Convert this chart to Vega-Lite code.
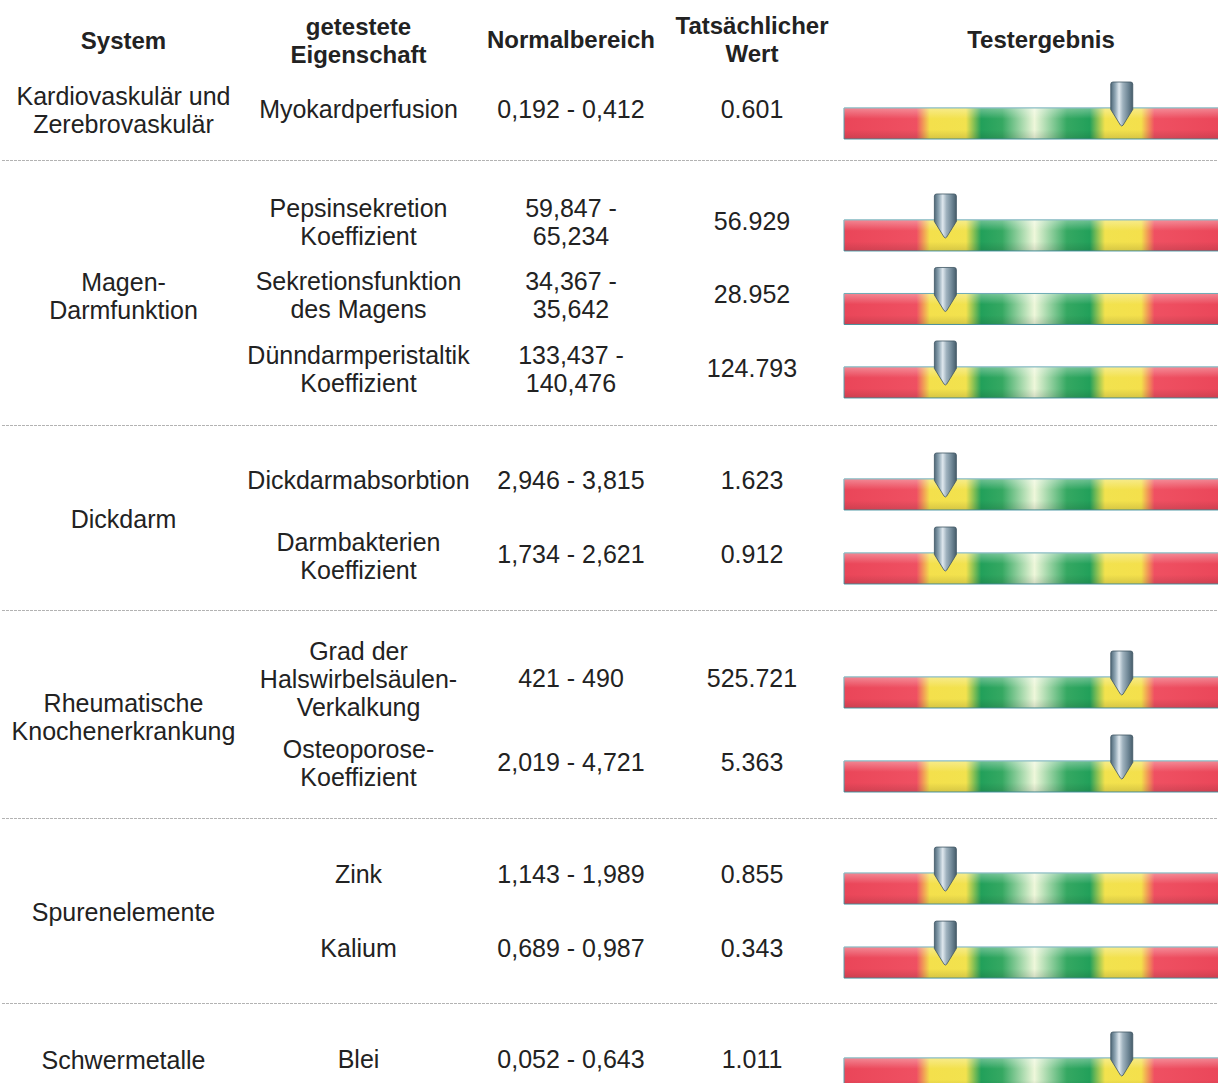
{
  "$schema": "https://vega.github.io/schema/vega-lite/v6.json",
  "padding": 0,
  "spacing": 0,
  "background": "white",
  "config": {
    "view": {"stroke": null},
    "text": {"font": "Liberation Sans", "fontSize": 25, "color": "#222222", "lineBreak": "\n", "lineHeight": 28, "baseline": "middle", "align": "center"}
  },
  "datasets": {
    "zeilen": [
      {"gruppe": 1, "nr": 1, "eigenschaft": "Myokardperfusion", "bereich": "0,192 - 0,412", "wert": 0.601, "skala": 72.9},
      {"gruppe": 2, "nr": 2, "eigenschaft": "Pepsinsekretion\nKoeffizient", "bereich": "59,847 -\n65,234", "wert": 56.929, "skala": 26.6},
      {"gruppe": 2, "nr": 3, "eigenschaft": "Sekretionsfunktion\ndes Magens", "bereich": "34,367 -\n35,642", "wert": 28.952, "skala": 26.6},
      {"gruppe": 2, "nr": 4, "eigenschaft": "Dünndarmperistaltik\nKoeffizient", "bereich": "133,437 -\n140,476", "wert": 124.793, "skala": 26.6},
      {"gruppe": 3, "nr": 5, "eigenschaft": "Dickdarmabsorbtion", "bereich": "2,946 - 3,815", "wert": 1.623, "skala": 26.6},
      {"gruppe": 3, "nr": 6, "eigenschaft": "Darmbakterien\nKoeffizient", "bereich": "1,734 - 2,621", "wert": 0.912, "skala": 26.6},
      {"gruppe": 4, "nr": 7, "eigenschaft": "Grad der\nHalswirbelsäulen-\nVerkalkung", "bereich": "421 - 490", "wert": 525.721, "skala": 72.9},
      {"gruppe": 4, "nr": 8, "eigenschaft": "Osteoporose-\nKoeffizient", "bereich": "2,019 - 4,721", "wert": 5.363, "skala": 72.9},
      {"gruppe": 5, "nr": 9, "eigenschaft": "Zink", "bereich": "1,143 - 1,989", "wert": 0.855, "skala": 26.6},
      {"gruppe": 5, "nr": 10, "eigenschaft": "Kalium", "bereich": "0,689 - 0,987", "wert": 0.343, "skala": 26.6},
      {"gruppe": 6, "nr": 11, "eigenschaft": "Blei", "bereich": "0,052 - 0,643", "wert": 1.011, "skala": 72.9}
    ],
    "gruppen": [
      {"gruppe": 1, "system": "Kardiovaskulär und\nZerebrovaskulär"},
      {"gruppe": 2, "system": "Magen-\nDarmfunktion"},
      {"gruppe": 3, "system": "Dickdarm"},
      {"gruppe": 4, "system": "Rheumatische\nKnochenerkrankung"},
      {"gruppe": 5, "system": "Spurenelemente"},
      {"gruppe": 6, "system": "Schwermetalle"}
    ],
    "kopf": [
      {"spalte": 1, "titel": "System"},
      {"spalte": 2, "titel": "getestete\nEigenschaft"},
      {"spalte": 3, "titel": "Normalbereich"},
      {"spalte": 4, "titel": "Tatsächlicher\nWert"},
      {"spalte": 5, "titel": "Testergebnis"}
    ]
  },
  "vconcat": [
    {
      "spacing": 0, "bounds": "flush",
      "hconcat": [
        {"width": 245, "height": 73, "data": {"name": "kopf"}, "transform": [{"filter": "datum.spalte == 1"}], "mark": {"type": "text", "fontWeight": "bold", "fontSize": 24, "yOffset": 5}, "encoding": {"text": {"field": "titel"}}},
        {"width": 225, "height": 73, "data": {"name": "kopf"}, "transform": [{"filter": "datum.spalte == 2"}], "mark": {"type": "text", "fontWeight": "bold", "fontSize": 24, "yOffset": -9}, "encoding": {"text": {"field": "titel"}}},
        {"width": 200, "height": 73, "data": {"name": "kopf"}, "transform": [{"filter": "datum.spalte == 3"}], "mark": {"type": "text", "fontWeight": "bold", "fontSize": 24, "yOffset": 4}, "encoding": {"text": {"field": "titel"}}},
        {"width": 162, "height": 73, "data": {"name": "kopf"}, "transform": [{"filter": "datum.spalte == 4"}], "mark": {"type": "text", "fontWeight": "bold", "fontSize": 24, "yOffset": -10}, "encoding": {"text": {"field": "titel"}}},
        {"width": 416, "height": 73, "data": {"name": "kopf"}, "transform": [{"filter": "datum.spalte == 5"}], "mark": {"type": "text", "fontWeight": "bold", "fontSize": 24, "yOffset": 4}, "encoding": {"text": {"field": "titel"}}}
      ]
    },
    {
      "spacing": 0, "bounds": "flush",
      "hconcat": [
        {"width": 245, "height": 87, "data": {"name": "gruppen"}, "transform": [{"filter": "datum.gruppe == 1"}], "mark": {"type": "text", "yOffset": -13}, "encoding": {"y": {"field": "gruppe", "type": "ordinal", "axis": null, "scale": {"type": "band", "paddingInner": 0, "paddingOuter": 0.0878, "align": 0}}, "text": {"field": "system"}}},
        {"width": 225, "height": 87, "data": {"name": "zeilen"}, "transform": [{"filter": "datum.gruppe == 1"}], "mark": "text", "encoding": {"y": {"field": "nr", "type": "ordinal", "axis": null, "scale": {"type": "band", "paddingInner": 0, "paddingOuter": 0.0878, "align": 0}}, "text": {"field": "eigenschaft"}}},
        {"width": 200, "height": 87, "data": {"name": "zeilen"}, "transform": [{"filter": "datum.gruppe == 1"}], "mark": "text", "encoding": {"y": {"field": "nr", "type": "ordinal", "axis": null, "scale": {"type": "band", "paddingInner": 0, "paddingOuter": 0.0878, "align": 0}}, "text": {"field": "bereich"}}},
        {"width": 162, "height": 87, "data": {"name": "zeilen"}, "transform": [{"filter": "datum.gruppe == 1"}], "mark": "text", "encoding": {"y": {"field": "nr", "type": "ordinal", "axis": null, "scale": {"type": "band", "paddingInner": 0, "paddingOuter": 0.0878, "align": 0}}, "text": {"field": "wert", "type": "quantitative", "format": ".3f"}}},
        {"width": 400, "height": 87, "data": {"name": "zeilen"}, "transform": [{"filter": "datum.gruppe == 1"}],
         "encoding": {"y": {"field": "nr", "type": "ordinal", "axis": null, "scale": {"type": "band", "paddingInner": 0, "paddingOuter": 0.0878, "align": 0}}},
         "layer": [
          {"mark": {"type": "bar", "height": 31, "yOffset": 13.5, "stroke": "#4f9aa6", "strokeWidth": 1, "fill": {"gradient": "linear", "x1": 0, "y1": 0, "x2": 1, "y2": 0, "stops": [{"offset": 0, "color": "#ea4659"}, {"offset": 0.19, "color": "#ef5062"}, {"offset": 0.225, "color": "#f4e04c"}, {"offset": 0.32, "color": "#f2e24e"}, {"offset": 0.36, "color": "#22a05a"}, {"offset": 0.415, "color": "#35a862"}, {"offset": 0.5, "color": "#eef7da"}, {"offset": 0.585, "color": "#35a862"}, {"offset": 0.645, "color": "#22a05a"}, {"offset": 0.685, "color": "#f2e24e"}, {"offset": 0.78, "color": "#f4e04c"}, {"offset": 0.815, "color": "#ef5062"}, {"offset": 1, "color": "#ea4659"}]}},
           "encoding": {"x": {"datum": 0, "type": "quantitative", "axis": null, "scale": {"domain": [-2.9, 102.1], "nice": false, "zero": false}}, "x2": {"datum": 100}}},
          {"mark": {"type": "bar", "height": 31, "yOffset": 13.5, "fill": {"gradient": "linear", "x1": 0, "y1": 0, "x2": 0, "y2": 1, "stops": [{"offset": 0, "color": "rgba(255,255,255,0.35)"}, {"offset": 0.35, "color": "rgba(255,255,255,0)"}, {"offset": 0.7, "color": "rgba(0,0,0,0)"}, {"offset": 1, "color": "rgba(0,0,0,0.12)"}]}},
           "encoding": {"x": {"datum": 0, "type": "quantitative"}, "x2": {"datum": 100}}},
          {"mark": {"type": "point", "shape": "M-0.5,-0.9Q-0.5,-1,-0.4,-1L0.4,-1Q0.5,-1,0.5,-0.9L0.5,0.25L0.06,0.96Q0,1.04,-0.06,0.96L-0.5,0.25Z", "size": 1936, "filled": true, "opacity": 1, "yOffset": -6, "stroke": "#3f5563", "strokeWidth": 0.8, "fill": {"gradient": "linear", "x1": 0, "y1": 0, "x2": 1, "y2": 0, "stops": [{"offset": 0, "color": "#4f6878"}, {"offset": 0.2, "color": "#8fa6b4"}, {"offset": 0.38, "color": "#dfe8ee"}, {"offset": 0.55, "color": "#9fb2be"}, {"offset": 0.8, "color": "#6d8594"}, {"offset": 1, "color": "#475d6b"}]}},
           "encoding": {"x": {"field": "skala", "type": "quantitative"}}}
         ]}
      ]
    },
    {"width": 1232, "height": 1, "data": {"values": [{}]}, "mark": {"type": "rule", "color": "#b3b3b3", "strokeWidth": 1, "strokeDash": [3, 1]}, "encoding": {"y": {"datum": 0.5, "type": "quantitative", "axis": null, "scale": {"domain": [0, 1]}}}},
    {
      "spacing": 0, "bounds": "flush",
      "hconcat": [
        {"width": 245, "height": 264, "data": {"name": "gruppen"}, "transform": [{"filter": "datum.gruppe == 2"}], "mark": {"type": "text", "yOffset": -10}, "encoding": {"text": {"field": "system"}}},
        {"width": 225, "height": 264, "data": {"name": "zeilen"}, "transform": [{"filter": "datum.gruppe == 2"}], "mark": {"type": "text", "yOffset": -12}, "encoding": {"y": {"field": "nr", "type": "ordinal", "axis": null, "scale": {"type": "band", "paddingInner": 0, "paddingOuter": 0.296, "align": 0.534}}, "text": {"field": "eigenschaft"}}},
        {"width": 200, "height": 264, "data": {"name": "zeilen"}, "transform": [{"filter": "datum.gruppe == 2"}], "mark": {"type": "text", "yOffset": -12}, "encoding": {"y": {"field": "nr", "type": "ordinal", "axis": null, "scale": {"type": "band", "paddingInner": 0, "paddingOuter": 0.296, "align": 0.534}}, "text": {"field": "bereich"}}},
        {"width": 162, "height": 264, "data": {"name": "zeilen"}, "transform": [{"filter": "datum.gruppe == 2"}], "mark": {"type": "text", "yOffset": 1}, "encoding": {"y": {"field": "nr", "type": "ordinal", "axis": null, "scale": {"type": "band", "paddingInner": 0, "paddingOuter": 0.296, "align": 0.534}}, "text": {"field": "wert", "type": "quantitative", "format": ".3f"}}},
        {"width": 400, "height": 264, "data": {"name": "zeilen"}, "transform": [{"filter": "datum.gruppe == 2"}],
         "encoding": {"y": {"field": "nr", "type": "ordinal", "axis": null, "scale": {"type": "band", "paddingInner": 0, "paddingOuter": 0.296, "align": 0.534}}},
         "layer": [
          {"mark": {"type": "bar", "height": 31, "yOffset": 14.5, "stroke": "#4f9aa6", "strokeWidth": 1, "fill": {"gradient": "linear", "x1": 0, "y1": 0, "x2": 1, "y2": 0, "stops": [{"offset": 0, "color": "#ea4659"}, {"offset": 0.19, "color": "#ef5062"}, {"offset": 0.225, "color": "#f4e04c"}, {"offset": 0.32, "color": "#f2e24e"}, {"offset": 0.36, "color": "#22a05a"}, {"offset": 0.415, "color": "#35a862"}, {"offset": 0.5, "color": "#eef7da"}, {"offset": 0.585, "color": "#35a862"}, {"offset": 0.645, "color": "#22a05a"}, {"offset": 0.685, "color": "#f2e24e"}, {"offset": 0.78, "color": "#f4e04c"}, {"offset": 0.815, "color": "#ef5062"}, {"offset": 1, "color": "#ea4659"}]}},
           "encoding": {"x": {"datum": 0, "type": "quantitative", "axis": null, "scale": {"domain": [-2.9, 102.1], "nice": false, "zero": false}}, "x2": {"datum": 100}}},
          {"mark": {"type": "bar", "height": 31, "yOffset": 14.5, "fill": {"gradient": "linear", "x1": 0, "y1": 0, "x2": 0, "y2": 1, "stops": [{"offset": 0, "color": "rgba(255,255,255,0.35)"}, {"offset": 0.35, "color": "rgba(255,255,255,0)"}, {"offset": 0.7, "color": "rgba(0,0,0,0)"}, {"offset": 1, "color": "rgba(0,0,0,0.12)"}]}},
           "encoding": {"x": {"datum": 0, "type": "quantitative"}, "x2": {"datum": 100}}},
          {"mark": {"type": "point", "shape": "M-0.5,-0.9Q-0.5,-1,-0.4,-1L0.4,-1Q0.5,-1,0.5,-0.9L0.5,0.25L0.06,0.96Q0,1.04,-0.06,0.96L-0.5,0.25Z", "size": 1936, "filled": true, "opacity": 1, "yOffset": -5, "stroke": "#3f5563", "strokeWidth": 0.8, "fill": {"gradient": "linear", "x1": 0, "y1": 0, "x2": 1, "y2": 0, "stops": [{"offset": 0, "color": "#4f6878"}, {"offset": 0.2, "color": "#8fa6b4"}, {"offset": 0.38, "color": "#dfe8ee"}, {"offset": 0.55, "color": "#9fb2be"}, {"offset": 0.8, "color": "#6d8594"}, {"offset": 1, "color": "#475d6b"}]}},
           "encoding": {"x": {"field": "skala", "type": "quantitative"}}}
         ]}
      ]
    },
    {"width": 1232, "height": 1, "data": {"values": [{}]}, "mark": {"type": "rule", "color": "#b3b3b3", "strokeWidth": 1, "strokeDash": [3, 1]}, "encoding": {"y": {"datum": 0.5, "type": "quantitative", "axis": null, "scale": {"domain": [0, 1]}}}},
    {
      "spacing": 0, "bounds": "flush",
      "hconcat": [
        {"width": 245, "height": 184, "data": {"name": "gruppen"}, "transform": [{"filter": "datum.gruppe == 3"}], "mark": {"type": "text", "yOffset": 2}, "encoding": {"text": {"field": "system"}}},
        {"width": 225, "height": 184, "data": {"name": "zeilen"}, "transform": [{"filter": "datum.gruppe == 3"}],
         "encoding": {"y": {"field": "nr", "type": "ordinal", "axis": null, "scale": {"type": "band", "paddingInner": 0, "paddingOuter": 0.243, "align": 0.5}}, "text": {"field": "eigenschaft"}},
         "layer": [
          {"transform": [{"filter": "length(split(datum.eigenschaft, '\\n')) == 1"}], "mark": "text"},
          {"transform": [{"filter": "length(split(datum.eigenschaft, '\\n')) == 2"}], "mark": {"type": "text", "yOffset": -12.5}}
         ]},
        {"width": 200, "height": 184, "data": {"name": "zeilen"}, "transform": [{"filter": "datum.gruppe == 3"}], "mark": "text", "encoding": {"y": {"field": "nr", "type": "ordinal", "axis": null, "scale": {"type": "band", "paddingInner": 0, "paddingOuter": 0.243, "align": 0.5}}, "text": {"field": "bereich"}}},
        {"width": 162, "height": 184, "data": {"name": "zeilen"}, "transform": [{"filter": "datum.gruppe == 3"}], "mark": "text", "encoding": {"y": {"field": "nr", "type": "ordinal", "axis": null, "scale": {"type": "band", "paddingInner": 0, "paddingOuter": 0.243, "align": 0.5}}, "text": {"field": "wert", "type": "quantitative", "format": ".3f"}}},
        {"width": 400, "height": 184, "data": {"name": "zeilen"}, "transform": [{"filter": "datum.gruppe == 3"}],
         "encoding": {"y": {"field": "nr", "type": "ordinal", "axis": null, "scale": {"type": "band", "paddingInner": 0, "paddingOuter": 0.243, "align": 0.5}}},
         "layer": [
          {"mark": {"type": "bar", "height": 31, "yOffset": 13.5, "stroke": "#4f9aa6", "strokeWidth": 1, "fill": {"gradient": "linear", "x1": 0, "y1": 0, "x2": 1, "y2": 0, "stops": [{"offset": 0, "color": "#ea4659"}, {"offset": 0.19, "color": "#ef5062"}, {"offset": 0.225, "color": "#f4e04c"}, {"offset": 0.32, "color": "#f2e24e"}, {"offset": 0.36, "color": "#22a05a"}, {"offset": 0.415, "color": "#35a862"}, {"offset": 0.5, "color": "#eef7da"}, {"offset": 0.585, "color": "#35a862"}, {"offset": 0.645, "color": "#22a05a"}, {"offset": 0.685, "color": "#f2e24e"}, {"offset": 0.78, "color": "#f4e04c"}, {"offset": 0.815, "color": "#ef5062"}, {"offset": 1, "color": "#ea4659"}]}},
           "encoding": {"x": {"datum": 0, "type": "quantitative", "axis": null, "scale": {"domain": [-2.9, 102.1], "nice": false, "zero": false}}, "x2": {"datum": 100}}},
          {"mark": {"type": "bar", "height": 31, "yOffset": 13.5, "fill": {"gradient": "linear", "x1": 0, "y1": 0, "x2": 0, "y2": 1, "stops": [{"offset": 0, "color": "rgba(255,255,255,0.35)"}, {"offset": 0.35, "color": "rgba(255,255,255,0)"}, {"offset": 0.7, "color": "rgba(0,0,0,0)"}, {"offset": 1, "color": "rgba(0,0,0,0.12)"}]}},
           "encoding": {"x": {"datum": 0, "type": "quantitative"}, "x2": {"datum": 100}}},
          {"mark": {"type": "point", "shape": "M-0.5,-0.9Q-0.5,-1,-0.4,-1L0.4,-1Q0.5,-1,0.5,-0.9L0.5,0.25L0.06,0.96Q0,1.04,-0.06,0.96L-0.5,0.25Z", "size": 1936, "filled": true, "opacity": 1, "yOffset": -6, "stroke": "#3f5563", "strokeWidth": 0.8, "fill": {"gradient": "linear", "x1": 0, "y1": 0, "x2": 1, "y2": 0, "stops": [{"offset": 0, "color": "#4f6878"}, {"offset": 0.2, "color": "#8fa6b4"}, {"offset": 0.38, "color": "#dfe8ee"}, {"offset": 0.55, "color": "#9fb2be"}, {"offset": 0.8, "color": "#6d8594"}, {"offset": 1, "color": "#475d6b"}]}},
           "encoding": {"x": {"field": "skala", "type": "quantitative"}}}
         ]}
      ]
    },
    {"width": 1232, "height": 1, "data": {"values": [{}]}, "mark": {"type": "rule", "color": "#b3b3b3", "strokeWidth": 1, "strokeDash": [3, 1]}, "encoding": {"y": {"datum": 0.5, "type": "quantitative", "axis": null, "scale": {"domain": [0, 1]}}}},
    {
      "spacing": 0, "bounds": "flush",
      "hconcat": [
        {"width": 245, "height": 207, "data": {"name": "gruppen"}, "transform": [{"filter": "datum.gruppe == 4"}], "mark": {"type": "text", "yOffset": -11}, "encoding": {"text": {"field": "system"}}},
        {"width": 225, "height": 207, "data": {"name": "zeilen"}, "transform": [{"filter": "datum.gruppe == 4"}],
         "encoding": {"y": {"field": "nr", "type": "ordinal", "axis": null, "scale": {"type": "band", "paddingInner": 0, "paddingOuter": 0.232, "align": 0.667}}, "text": {"field": "eigenschaft"}},
         "layer": [
          {"transform": [{"filter": "length(split(datum.eigenschaft, '\\n')) == 3"}], "mark": {"type": "text", "yOffset": -27}},
          {"transform": [{"filter": "length(split(datum.eigenschaft, '\\n')) == 2"}], "mark": {"type": "text", "yOffset": -13}}
         ]},
        {"width": 200, "height": 207, "data": {"name": "zeilen"}, "transform": [{"filter": "datum.gruppe == 4"}], "mark": "text", "encoding": {"y": {"field": "nr", "type": "ordinal", "axis": null, "scale": {"type": "band", "paddingInner": 0, "paddingOuter": 0.232, "align": 0.667}}, "text": {"field": "bereich"}}},
        {"width": 162, "height": 207, "data": {"name": "zeilen"}, "transform": [{"filter": "datum.gruppe == 4"}], "mark": "text", "encoding": {"y": {"field": "nr", "type": "ordinal", "axis": null, "scale": {"type": "band", "paddingInner": 0, "paddingOuter": 0.232, "align": 0.667}}, "text": {"field": "wert", "type": "quantitative", "format": ".3f"}}},
        {"width": 400, "height": 207, "data": {"name": "zeilen"}, "transform": [{"filter": "datum.gruppe == 4"}],
         "encoding": {"y": {"field": "nr", "type": "ordinal", "axis": null, "scale": {"type": "band", "paddingInner": 0, "paddingOuter": 0.232, "align": 0.667}}},
         "layer": [
          {"mark": {"type": "bar", "height": 31, "yOffset": 13.5, "stroke": "#4f9aa6", "strokeWidth": 1, "fill": {"gradient": "linear", "x1": 0, "y1": 0, "x2": 1, "y2": 0, "stops": [{"offset": 0, "color": "#ea4659"}, {"offset": 0.19, "color": "#ef5062"}, {"offset": 0.225, "color": "#f4e04c"}, {"offset": 0.32, "color": "#f2e24e"}, {"offset": 0.36, "color": "#22a05a"}, {"offset": 0.415, "color": "#35a862"}, {"offset": 0.5, "color": "#eef7da"}, {"offset": 0.585, "color": "#35a862"}, {"offset": 0.645, "color": "#22a05a"}, {"offset": 0.685, "color": "#f2e24e"}, {"offset": 0.78, "color": "#f4e04c"}, {"offset": 0.815, "color": "#ef5062"}, {"offset": 1, "color": "#ea4659"}]}},
           "encoding": {"x": {"datum": 0, "type": "quantitative", "axis": null, "scale": {"domain": [-2.9, 102.1], "nice": false, "zero": false}}, "x2": {"datum": 100}}},
          {"mark": {"type": "bar", "height": 31, "yOffset": 13.5, "fill": {"gradient": "linear", "x1": 0, "y1": 0, "x2": 0, "y2": 1, "stops": [{"offset": 0, "color": "rgba(255,255,255,0.35)"}, {"offset": 0.35, "color": "rgba(255,255,255,0)"}, {"offset": 0.7, "color": "rgba(0,0,0,0)"}, {"offset": 1, "color": "rgba(0,0,0,0.12)"}]}},
           "encoding": {"x": {"datum": 0, "type": "quantitative"}, "x2": {"datum": 100}}},
          {"mark": {"type": "point", "shape": "M-0.5,-0.9Q-0.5,-1,-0.4,-1L0.4,-1Q0.5,-1,0.5,-0.9L0.5,0.25L0.06,0.96Q0,1.04,-0.06,0.96L-0.5,0.25Z", "size": 1936, "filled": true, "opacity": 1, "yOffset": -6, "stroke": "#3f5563", "strokeWidth": 0.8, "fill": {"gradient": "linear", "x1": 0, "y1": 0, "x2": 1, "y2": 0, "stops": [{"offset": 0, "color": "#4f6878"}, {"offset": 0.2, "color": "#8fa6b4"}, {"offset": 0.38, "color": "#dfe8ee"}, {"offset": 0.55, "color": "#9fb2be"}, {"offset": 0.8, "color": "#6d8594"}, {"offset": 1, "color": "#475d6b"}]}},
           "encoding": {"x": {"field": "skala", "type": "quantitative"}}}
         ]}
      ]
    },
    {"width": 1232, "height": 1, "data": {"values": [{}]}, "mark": {"type": "rule", "color": "#b3b3b3", "strokeWidth": 1, "strokeDash": [3, 1]}, "encoding": {"y": {"datum": 0.5, "type": "quantitative", "axis": null, "scale": {"domain": [0, 1]}}}},
    {
      "spacing": 0, "bounds": "flush",
      "hconcat": [
        {"width": 245, "height": 184, "data": {"name": "gruppen"}, "transform": [{"filter": "datum.gruppe == 5"}], "mark": {"type": "text", "yOffset": 2}, "encoding": {"text": {"field": "system"}}},
        {"width": 225, "height": 184, "data": {"name": "zeilen"}, "transform": [{"filter": "datum.gruppe == 5"}], "mark": "text", "encoding": {"y": {"field": "nr", "type": "ordinal", "axis": null, "scale": {"type": "band", "paddingInner": 0, "paddingOuter": 0.243, "align": 0.53}}, "text": {"field": "eigenschaft"}}},
        {"width": 200, "height": 184, "data": {"name": "zeilen"}, "transform": [{"filter": "datum.gruppe == 5"}], "mark": "text", "encoding": {"y": {"field": "nr", "type": "ordinal", "axis": null, "scale": {"type": "band", "paddingInner": 0, "paddingOuter": 0.243, "align": 0.53}}, "text": {"field": "bereich"}}},
        {"width": 162, "height": 184, "data": {"name": "zeilen"}, "transform": [{"filter": "datum.gruppe == 5"}], "mark": "text", "encoding": {"y": {"field": "nr", "type": "ordinal", "axis": null, "scale": {"type": "band", "paddingInner": 0, "paddingOuter": 0.243, "align": 0.53}}, "text": {"field": "wert", "type": "quantitative", "format": ".3f"}}},
        {"width": 400, "height": 184, "data": {"name": "zeilen"}, "transform": [{"filter": "datum.gruppe == 5"}],
         "encoding": {"y": {"field": "nr", "type": "ordinal", "axis": null, "scale": {"type": "band", "paddingInner": 0, "paddingOuter": 0.243, "align": 0.53}}},
         "layer": [
          {"mark": {"type": "bar", "height": 31, "yOffset": 13.5, "stroke": "#4f9aa6", "strokeWidth": 1, "fill": {"gradient": "linear", "x1": 0, "y1": 0, "x2": 1, "y2": 0, "stops": [{"offset": 0, "color": "#ea4659"}, {"offset": 0.19, "color": "#ef5062"}, {"offset": 0.225, "color": "#f4e04c"}, {"offset": 0.32, "color": "#f2e24e"}, {"offset": 0.36, "color": "#22a05a"}, {"offset": 0.415, "color": "#35a862"}, {"offset": 0.5, "color": "#eef7da"}, {"offset": 0.585, "color": "#35a862"}, {"offset": 0.645, "color": "#22a05a"}, {"offset": 0.685, "color": "#f2e24e"}, {"offset": 0.78, "color": "#f4e04c"}, {"offset": 0.815, "color": "#ef5062"}, {"offset": 1, "color": "#ea4659"}]}},
           "encoding": {"x": {"datum": 0, "type": "quantitative", "axis": null, "scale": {"domain": [-2.9, 102.1], "nice": false, "zero": false}}, "x2": {"datum": 100}}},
          {"mark": {"type": "bar", "height": 31, "yOffset": 13.5, "fill": {"gradient": "linear", "x1": 0, "y1": 0, "x2": 0, "y2": 1, "stops": [{"offset": 0, "color": "rgba(255,255,255,0.35)"}, {"offset": 0.35, "color": "rgba(255,255,255,0)"}, {"offset": 0.7, "color": "rgba(0,0,0,0)"}, {"offset": 1, "color": "rgba(0,0,0,0.12)"}]}},
           "encoding": {"x": {"datum": 0, "type": "quantitative"}, "x2": {"datum": 100}}},
          {"mark": {"type": "point", "shape": "M-0.5,-0.9Q-0.5,-1,-0.4,-1L0.4,-1Q0.5,-1,0.5,-0.9L0.5,0.25L0.06,0.96Q0,1.04,-0.06,0.96L-0.5,0.25Z", "size": 1936, "filled": true, "opacity": 1, "yOffset": -6, "stroke": "#3f5563", "strokeWidth": 0.8, "fill": {"gradient": "linear", "x1": 0, "y1": 0, "x2": 1, "y2": 0, "stops": [{"offset": 0, "color": "#4f6878"}, {"offset": 0.2, "color": "#8fa6b4"}, {"offset": 0.38, "color": "#dfe8ee"}, {"offset": 0.55, "color": "#9fb2be"}, {"offset": 0.8, "color": "#6d8594"}, {"offset": 1, "color": "#475d6b"}]}},
           "encoding": {"x": {"field": "skala", "type": "quantitative"}}}
         ]}
      ]
    },
    {"width": 1232, "height": 1, "data": {"values": [{}]}, "mark": {"type": "rule", "color": "#b3b3b3", "strokeWidth": 1, "strokeDash": [3, 1]}, "encoding": {"y": {"datum": 0.5, "type": "quantitative", "axis": null, "scale": {"domain": [0, 1]}}}},
    {
      "spacing": 0, "bounds": "flush",
      "hconcat": [
        {"width": 245, "height": 114, "data": {"name": "gruppen"}, "transform": [{"filter": "datum.gruppe == 6"}], "mark": "text", "encoding": {"text": {"field": "system"}}},
        {"width": 225, "height": 114, "data": {"name": "zeilen"}, "transform": [{"filter": "datum.gruppe == 6"}], "mark": "text", "encoding": {"y": {"field": "nr", "type": "ordinal", "axis": null, "scale": {"type": "band", "paddingInner": 0, "paddingOuter": 0.27, "align": 0.475}}, "text": {"field": "eigenschaft"}}},
        {"width": 200, "height": 114, "data": {"name": "zeilen"}, "transform": [{"filter": "datum.gruppe == 6"}], "mark": "text", "encoding": {"y": {"field": "nr", "type": "ordinal", "axis": null, "scale": {"type": "band", "paddingInner": 0, "paddingOuter": 0.27, "align": 0.475}}, "text": {"field": "bereich"}}},
        {"width": 162, "height": 114, "data": {"name": "zeilen"}, "transform": [{"filter": "datum.gruppe == 6"}], "mark": "text", "encoding": {"y": {"field": "nr", "type": "ordinal", "axis": null, "scale": {"type": "band", "paddingInner": 0, "paddingOuter": 0.27, "align": 0.475}}, "text": {"field": "wert", "type": "quantitative", "format": ".3f"}}},
        {"width": 400, "height": 114, "data": {"name": "zeilen"}, "transform": [{"filter": "datum.gruppe == 6"}],
         "encoding": {"y": {"field": "nr", "type": "ordinal", "axis": null, "scale": {"type": "band", "paddingInner": 0, "paddingOuter": 0.27, "align": 0.475}}},
         "layer": [
          {"mark": {"type": "bar", "height": 31, "yOffset": 13.5, "stroke": "#4f9aa6", "strokeWidth": 1, "fill": {"gradient": "linear", "x1": 0, "y1": 0, "x2": 1, "y2": 0, "stops": [{"offset": 0, "color": "#ea4659"}, {"offset": 0.19, "color": "#ef5062"}, {"offset": 0.225, "color": "#f4e04c"}, {"offset": 0.32, "color": "#f2e24e"}, {"offset": 0.36, "color": "#22a05a"}, {"offset": 0.415, "color": "#35a862"}, {"offset": 0.5, "color": "#eef7da"}, {"offset": 0.585, "color": "#35a862"}, {"offset": 0.645, "color": "#22a05a"}, {"offset": 0.685, "color": "#f2e24e"}, {"offset": 0.78, "color": "#f4e04c"}, {"offset": 0.815, "color": "#ef5062"}, {"offset": 1, "color": "#ea4659"}]}},
           "encoding": {"x": {"datum": 0, "type": "quantitative", "axis": null, "scale": {"domain": [-2.9, 102.1], "nice": false, "zero": false}}, "x2": {"datum": 100}}},
          {"mark": {"type": "bar", "height": 31, "yOffset": 13.5, "fill": {"gradient": "linear", "x1": 0, "y1": 0, "x2": 0, "y2": 1, "stops": [{"offset": 0, "color": "rgba(255,255,255,0.35)"}, {"offset": 0.35, "color": "rgba(255,255,255,0)"}, {"offset": 0.7, "color": "rgba(0,0,0,0)"}, {"offset": 1, "color": "rgba(0,0,0,0.12)"}]}},
           "encoding": {"x": {"datum": 0, "type": "quantitative"}, "x2": {"datum": 100}}},
          {"mark": {"type": "point", "shape": "M-0.5,-0.9Q-0.5,-1,-0.4,-1L0.4,-1Q0.5,-1,0.5,-0.9L0.5,0.25L0.06,0.96Q0,1.04,-0.06,0.96L-0.5,0.25Z", "size": 1936, "filled": true, "opacity": 1, "yOffset": -6, "stroke": "#3f5563", "strokeWidth": 0.8, "fill": {"gradient": "linear", "x1": 0, "y1": 0, "x2": 1, "y2": 0, "stops": [{"offset": 0, "color": "#4f6878"}, {"offset": 0.2, "color": "#8fa6b4"}, {"offset": 0.38, "color": "#dfe8ee"}, {"offset": 0.55, "color": "#9fb2be"}, {"offset": 0.8, "color": "#6d8594"}, {"offset": 1, "color": "#475d6b"}]}},
           "encoding": {"x": {"field": "skala", "type": "quantitative"}}}
         ]}
      ]
    }
  ]
}
